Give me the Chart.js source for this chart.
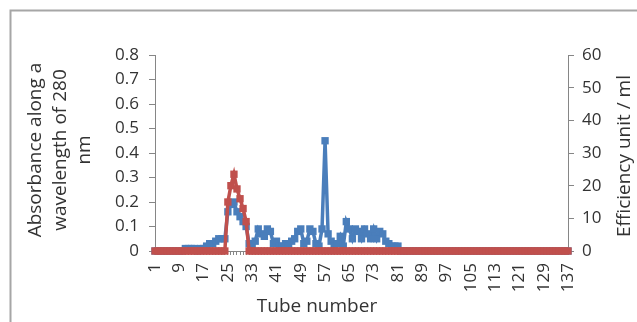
<!DOCTYPE html>
<html>
<head>
<meta charset="utf-8">
<script src="https://cdn.jsdelivr.net/npm/chart.js"></script>
<style>
   html, body { margin: 0; padding: 0; background: #fff; }
   canvas { display: block; }
</style>
</head>
<body>
<canvas id="grafico" width="637" height="322"></canvas>
<script>
// tube numbers (x categories)
const tubes = [
   1, 2, 3, 4, 5, 6, 7, 8, 9, 10, 11, 12, 13, 14, 15, 16, 17, 18, 19, 20,
   21, 22, 23, 24, 25, 26, 27, 28, 29, 30, 31, 32, 33, 34, 35, 36, 37, 38, 39, 40,
   41, 42, 43, 44, 45, 46, 47, 48, 49, 50, 51, 52, 53, 54, 55, 56, 57, 58, 59, 60,
   61, 62, 63, 64, 65, 66, 67, 68, 69, 70, 71, 72, 73, 74, 75, 76, 77, 78, 79, 80,
   81, 82, 83, 84, 85, 86, 87, 88, 89, 90, 91, 92, 93, 94, 95, 96, 97, 98, 99, 100,
   101, 102, 103, 104, 105, 106, 107, 108, 109, 110, 111, 112, 113, 114, 115, 116, 117, 118, 119, 120,
   121, 122, 123, 124, 125, 126, 127, 128, 129, 130, 131, 132, 133, 134, 135, 136, 137
]

// absorbance at 280 nm (left axis)
const absorbance = [
   0, 0, 0, 0, 0, 0, 0, 0,
   0, 0, 0.01, 0.01, 0.01, 0.01, 0, 0.01, 0.01,
   0.02, 0.03, 0.03, 0.04, 0.05, 0.05, 0.05,
   0.16, 0.19, 0.2, 0.16, 0.14, 0.12, 0.1, 0.03,
   0.02, 0.04, 0.09, 0.07, 0.06, 0.09, 0.08, 0.03, 0.04, 0.02,
   0.02, 0.03, 0.02, 0.04, 0.05, 0.08, 0.09, 0.03, 0.04, 0.09,
   0.08, 0.03, 0.02, 0.09, 0.45, 0.07, 0.04, 0.02, 0.03, 0.06,
   0.02, 0.12, 0.09, 0.05, 0.09, 0.08, 0.05, 0.09, 0.07, 0.05,
   0.09, 0.05, 0.08, 0.07, 0.04, 0.03, 0.02, 0.02, 0.02,
   0, 0, 0, 0, 0, 0, 0, 0, 0, 0, 0, 0, 0, 0, 0, 0, 0, 0, 0, 0,
   0, 0, 0, 0, 0, 0, 0, 0, 0, 0, 0, 0, 0, 0, 0, 0, 0, 0, 0, 0,
   0, 0, 0, 0, 0, 0, 0, 0, 0, 0, 0, 0, 0, 0, 0, 0
]

// efficiency unit / ml (right axis)
const efficiency = [
   0, 0, 0, 0, 0, 0, 0, 0, 0, 0, 0, 0, 0, 0, 0, 0, 0, 0, 0, 0, 0, 0, 0, 0,
   15, 20, 23.5, 19, 16, 13, 9, 0,
   0, 0, 0, 0, 0, 0, 0, 0, 0, 0, 0, 0, 0, 0, 0, 0, 0, 0, 0, 0, 0, 0, 0,
   0, 0, 0, 0, 0, 0, 0, 0, 0, 0, 0, 0, 0, 0, 0, 0, 0, 0, 0, 0, 0, 0, 0,
   0, 0, 0, 0, 0, 0, 0, 0, 0, 0, 0, 0, 0, 0, 0, 0, 0, 0, 0, 0, 0, 0, 0,
   0, 0, 0, 0, 0, 0, 0, 0, 0, 0, 0, 0, 0, 0, 0, 0, 0, 0, 0, 0, 0, 0, 0,
   0, 0, 0, 0, 0, 0, 0, 0, 0, 0, 0, 0, 0, 0, 0, 0, 0, 0, 0, 0, 0, 0, 0
]

const leftTitle = ['Absorbance along a', 'wavelength of 280', 'nm']
const rightTitle = 'Efficiency unit / ml'
const bottomTitle = 'Tube number'

const gris = '#868686'
const texto = '#333333'
const fuente = '"Open Sans", sans-serif'

// frame and axis titles (right title reads bottom-to-top like the left one)
const titulos = {
   id: 'titulos',
   beforeDraw(chart) {
      const ctx = chart.ctx
      ctx.save()
      ctx.fillStyle = '#fff'
      ctx.fillRect(0, 0, chart.width, chart.height)
      ctx.strokeStyle = '#a6a6a6'
      ctx.lineWidth = 2
      ctx.strokeRect(10.5, 10.5, 700, 400)
      ctx.restore()
   },
   afterDraw(chart) {
      const ctx = chart.ctx
      ctx.save()
      ctx.fillStyle = texto
      ctx.font = '19px ' + fuente
      ctx.textAlign = 'center'
      ctx.textBaseline = 'middle'
      leftTitle.forEach((linea, i) => {
         ctx.save()
         ctx.translate(36 + i * 24.5, 150)
         ctx.rotate(-Math.PI / 2)
         ctx.fillText(linea, 0, 0)
         ctx.restore()
      })
      ctx.save()
      ctx.translate(625, 156)
      ctx.rotate(-Math.PI / 2)
      ctx.fillText(rightTitle, 0, 0)
      ctx.restore()
      ctx.fillText(bottomTitle, 317, 307)
      ctx.restore()
   }
}

const ctx = document.getElementById('grafico').getContext('2d')
const myChart = new Chart(ctx, {
   type: 'line',
   data: {
      labels: tubes,
      datasets: [
         {
            label: 'Efficiency unit / ml',
            data: efficiency,
            yAxisID: 'y1',
            borderColor: '#c0504d',
            backgroundColor: '#c0504d',
            borderWidth: 3.5,
            pointStyle: 'rect',
            pointRadius: 5.2,
            pointBorderWidth: 0,
            clip: false,
            order: 0
         },
         {
            label: 'Absorbance',
            data: absorbance,
            yAxisID: 'y',
            borderColor: '#4a7ebb',
            backgroundColor: '#4a7ebb',
            borderWidth: 3.5,
            pointStyle: 'rect',
            pointRadius: 5.2,
            pointBorderWidth: 0,
            clip: false,
            order: 1
         }
      ]
   },
   options: {
      responsive: false,
      animation: false,
      layout: { padding: { top: 55, left: 0, right: 0, bottom: 0 } },
      plugins: {
         legend: { display: false },
         tooltip: { enabled: false }
      },
      scales: {
         x: {
            grid: { drawOnChartArea: false, drawTicks: true, tickLength: 4, color: gris },
            border: { display: true, color: gris },
            ticks: {
               autoSkip: false,
               minRotation: 90,
               maxRotation: 90,
               padding: 8,
               color: texto,
               font: { family: fuente, size: 17 },
               callback: function (valor, i) {
                  return i % 8 === 0 ? this.getLabelForValue(valor) : ''
               }
            },
            afterFit: s => { s.height = 71 }
         },
         y: {
            position: 'left',
            min: 0,
            max: 0.8,
            grid: { drawOnChartArea: false, tickLength: 6, color: gris },
            border: { display: true, color: gris },
            ticks: { stepSize: 0.1, padding: 10, color: texto, font: { family: fuente, size: 17 } },
            afterFit: s => { s.width = 155 }
         },
         y1: {
            position: 'right',
            min: 0,
            max: 60,
            grid: { drawOnChartArea: false, tickLength: 6, color: gris },
            border: { display: true, color: gris },
            ticks: { stepSize: 10, padding: 8, color: texto, font: { family: fuente, size: 17 } },
            afterFit: s => { s.width = 69 }
         }
      }
   },
   plugins: [titulos]
})
</script>
</body>
</html>
